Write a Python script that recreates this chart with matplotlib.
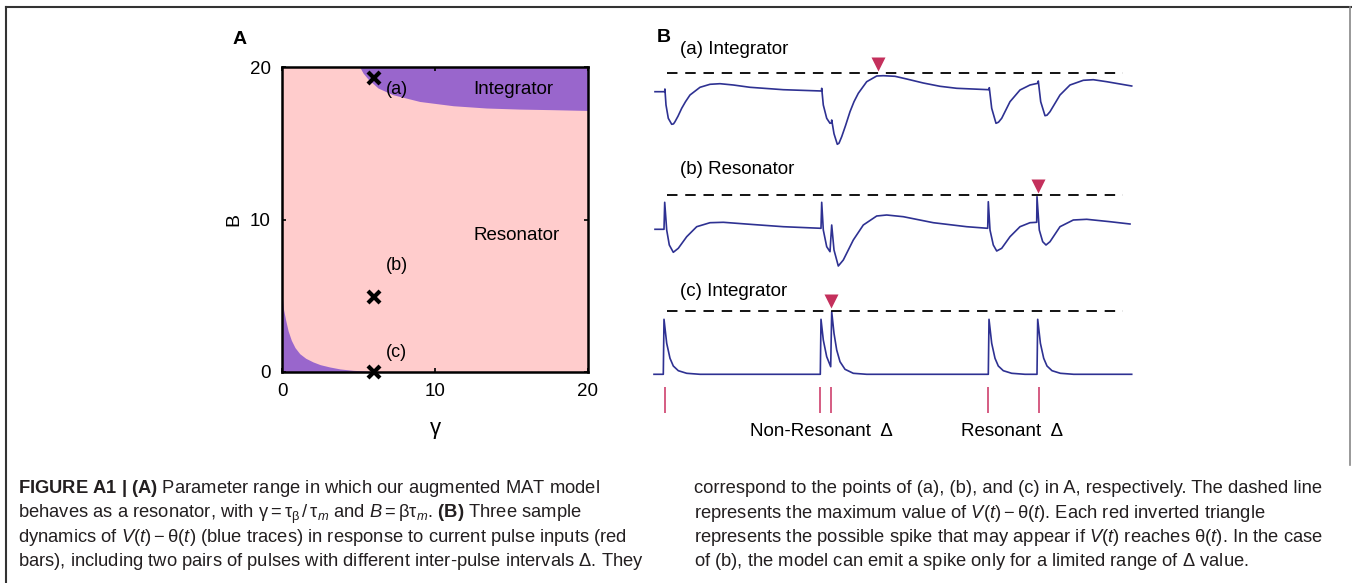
import matplotlib
matplotlib.use("Agg")
import matplotlib.pyplot as plt
from matplotlib.lines import Line2D

# ---- panel A: phase diagram (gamma, B) ----
upper_gamma = [5.08, 5.3, 5.63, 6.28, 7.26, 9.0, 11.19, 13.37, 15.55, 17.73, 20.0]
upper_B = [20.0, 19.6, 19.2, 18.62, 18.18, 17.74, 17.46, 17.31, 17.24, 17.2, 17.15]
lower_gamma = [0.0, 0.1, 0.24, 0.4, 0.61, 0.85, 1.16, 1.55, 2.03, 2.5, 3.12, 3.8, 4.65, 6.17, 7.26]
lower_B = [5.15, 4.1, 3.4, 2.7, 2.08, 1.6, 1.2, 0.9, 0.66, 0.48, 0.33, 0.2, 0.11, 0.02, 0.0]
point_gamma = [6.0, 6.0, 6.0]
point_B = [19.26, 4.94, 0.0]
point_names = ["(a)", "(b)", "(c)"]

# ---- panel B: V(t) - theta(t) traces (t in ms, v relative to rest) ----
t_a = [1, 10.7, 10.9, 12, 14.3, 17.7, 19.5, 21, 24, 27.7, 31.5, 36, 46, 56, 66, 79.3, 96, 129.3,
       167.5, 167.7, 169.3, 172.7, 176, 177.5, 177.7, 180, 183.3, 185, 187.7, 191.5, 196, 200,
       204.3, 212.7, 222.7, 229.3, 241, 252.7, 269.3, 286, 302.7, 334.7, 335.3, 337.7, 342,
       344.5, 347.7, 356, 366, 376, 383.7, 384.3, 386.7, 391, 393, 396, 406, 416, 429.3, 439.3,
       452.7, 477.7]
v_a = [0, 0, 2.7, -13.3, -26.6, -32.6, -32.2, -30, -24.5, -16.6, -10, -3.3, 4.4, 7.4, 8, 6.7, 4.4, 2,
       0.7, 3.4, -13.3, -26.6, -31.6, -31, -28.3, -42, -52.6, -51.5, -45, -34, -20, -10,
       -1.6, 10, 15.7, 16, 15.4, 12.7, 8.7, 5.4, 3.4, 2, 4, -16.6, -31.6,
       -30.5, -26.6, -10, 1.7, 6.7, 8.4, 10.7, -10, -24, -23.5, -20, -3.3, 6.7, 11.4, 12,
       10, 5.7]

t_b = [1, 10, 10.7, 12.7, 15.3, 19.3, 24.3, 32.7, 42.7, 56, 69.3, 96, 129.3,
       167, 167.7, 169.3, 172.7, 176, 177.7, 180, 184.3, 189.3, 199.3, 209.3, 222.7,
       232.7, 249.3, 279.3, 312.7, 333.7, 334.3, 336, 339.3, 342.7, 347.7, 356, 366,
       376, 382.7, 383, 385.3, 388.7, 392, 396, 406, 419.3, 432.7, 456, 476]
v_b = [0, 0, 27, -0.7, -15.7, -23, -19, -7.4, 2.6, 6.6, 7, 5, 2.6,
       1, 27, -0.7, -17.4, -22.4, 4.3, -20.7, -36.7, -30.7, -10.7, 4.3, 13.3,
       14.3, 12.6, 6.6, 2.6, 1, 27.6, -0.7, -15.7, -21.7, -19, -7.4, 2.6,
       6.6, 7, 32.6, -0.7, -12.4, -15.7, -12.4, 2.6, 9.3, 10, 7.6, 5.3]

t_c = [0, 9.3, 10, 12.7, 16, 19.3, 24.3, 32.7, 46, 166.3, 167, 169.3, 172.7, 176.7,
       177.7, 180, 182.7, 186, 191, 199.3, 212.7, 334.3, 335, 337.7, 341, 344.3,
       349.3, 357.7, 371, 383, 383.7, 386.4, 389.7, 393, 398, 406.4, 419.7, 477.7]
v_c = [0, 0, 55, 31, 16, 8.3, 3.6, 1, 0, 0, 55, 34.3, 17.6, 7.6,
       62.6, 41, 24.3, 12.6, 5, 1, 0, 0, 55, 31, 16, 8.3,
       3.6, 1, 0, 0, 55, 31, 16, 8.3, 3.6, 1, 0, 0]

v_max = [19, 34.3, 63.6]          # dashed line: max of V - theta
spike_t = [224, 383.7, 177]        # red inverted triangles
spike_v = [28, 43.5, 73]
pulse_t = [11, 166, 177, 334.3, 384.7]
trace_names = ["(a) Integrator", "(b) Resonator", "(c) Integrator"]

caption_left = [
    r"$\mathbf{FIGURE\ A1\ |\ (A)}$ Parameter range in which our augmented MAT model",
    r"behaves as a resonator, with $\mathrm{\gamma}=\mathrm{\tau}_{\mathrm{\beta}}\,/\,\mathrm{\tau}_{m}$"
    r" and $B=\mathrm{\beta\tau}_{m}$. $\mathbf{(B)}$ Three sample",
    r"dynamics of $V(t)-\mathrm{\theta}(t)$ (blue traces) in response to current pulse inputs (red",
    r"bars), including two pairs of pulses with different inter-pulse intervals $\mathrm{\Delta}$. They",
]
caption_right = [
    "correspond to the points of (a), (b), and (c) in A, respectively. The dashed line",
    r"represents the maximum value of $V(t)-\mathrm{\theta}(t)$. Each red inverted triangle",
    r"represents the possible spike that may appear if $V(t)$ reaches $\mathrm{\theta}(t)$. In the case",
    r"of (b), the model can emit a spike only for a limited range of $\mathrm{\Delta}$ value.",
]

pink = "#ffcccc"
purple = "#9966cc"
blue = "#2e3192"
red = "#c4305c"
bar_red = "#d24f78"

plt.rcParams["font.family"] = ["Liberation Sans", "DejaVu Sans"]
plt.rcParams["mathtext.fontset"] = "custom"
plt.rcParams["mathtext.rm"] = "Liberation Sans"
plt.rcParams["mathtext.it"] = "Liberation Sans:italic"
plt.rcParams["mathtext.bf"] = "Liberation Sans:bold"

W, H = 1352, 583
fig = plt.figure(figsize=(W / 100, H / 100), dpi=100)

# frame around the figure
fig.add_artist(Line2D([6 / W, 6 / W], [0, 1 - 7 / H], color="#333333", lw=1.5))
fig.add_artist(Line2D([6 / W, 1], [1 - 7 / H, 1 - 7 / H], color="#333333", lw=1.5))
fig.add_artist(Line2D([1350 / W, 1350 / W], [1 - 7 / H, 1 - 465 / H], color="#888888", lw=1.2))

# ---------- panel A ----------
ax = fig.add_axes([282 / W, 1 - 372 / H, 306 / W, 305 / H])
ax.set_facecolor(pink)
ax.fill_between(upper_gamma, upper_B, 20, color=purple, lw=0)
ax.fill_between(lower_gamma, 0, lower_B, color=purple, lw=0)
ax.plot(point_gamma, point_B, "x", color="black", ms=9, mew=3, clip_on=False, zorder=5)
for g, b, name in zip(point_gamma, [18.5, 6.98, 1.26], point_names):
    ax.text(g + 0.78, b, name, fontsize=13, va="center", ha="left")
ax.text(12.5, 18.55, "Integrator", fontsize=13.5, va="center")
ax.text(12.5, 8.98, "Resonator", fontsize=13.5, va="center")
ax.set_xlim(0, 20)
ax.set_ylim(0, 20)
ax.set_xticks([0, 10, 20])
ax.set_yticks([0, 10, 20])
ax.tick_params(direction="in", top=True, right=True, length=3, width=1.2,
               labelsize=13.5, pad=8)
for s in ax.spines.values():
    s.set_linewidth(1.8)
ax.set_xlabel("γ", fontsize=16)
ax.xaxis.set_label_coords(0.5, -0.15)
ax.set_ylabel("B", fontsize=14)
ax.yaxis.set_label_coords(-0.13, 0.5)
fig.text(233 / W, 1 - 40 / H, "A", fontsize=14, weight="bold", va="center")

# ---------- panel B ----------
bx = fig.add_axes([654 / W, 1 - 420 / H, 478 / W, 390 / H])
bx.set_xlim(0, 478)
bx.set_ylim(-420, -30)
bx.axis("off")
bases = [-91.7, -229.3, -374.3]
label_y = [-50, -170, -291.5]
for (tt, vv), base, vm, st, sv, name, ly in zip(
        [(t_a, v_a), (t_b, v_b), (t_c, v_c)], bases, v_max, spike_t, spike_v,
        trace_names, label_y):
    bx.plot(tt, [base + v for v in vv], color=blue, lw=1.2, clip_on=False)
    bx.plot([12.7, 469.3], [base + vm, base + vm], color="black", lw=1.3,
            dashes=(5.8, 4.3), clip_on=False)
    bx.plot([st], [base + sv], "v", color=red, ms=9.5, mec="none", clip_on=False)
    bx.text(26, ly, name, fontsize=13.5, va="center")
bx.vlines(pulse_t, -412.7, -386.7, color=bar_red, lw=1.3)
bx.text(96, -431, "Non-Resonant  Δ", fontsize=13.5, va="center")
bx.text(307, -431, "Resonant  Δ", fontsize=13.5, va="center")
bx.text(3, -37.5, "B", fontsize=14, weight="bold", va="center")

# ---------- caption ----------
cap = dict(fontsize=13.2, family=["Liberation Sans", "DejaVu Sans"],
           color="#231f20", va="baseline")
for i, line in enumerate(caption_left):
    fig.text(18 / W, 1 - (493 + 24.5 * i) / H, line, **cap)
for i, line in enumerate(caption_right):
    fig.text(694 / W, 1 - (493 + 24.5 * i) / H, line, **cap)

fig.savefig("out.png", dpi=100)
